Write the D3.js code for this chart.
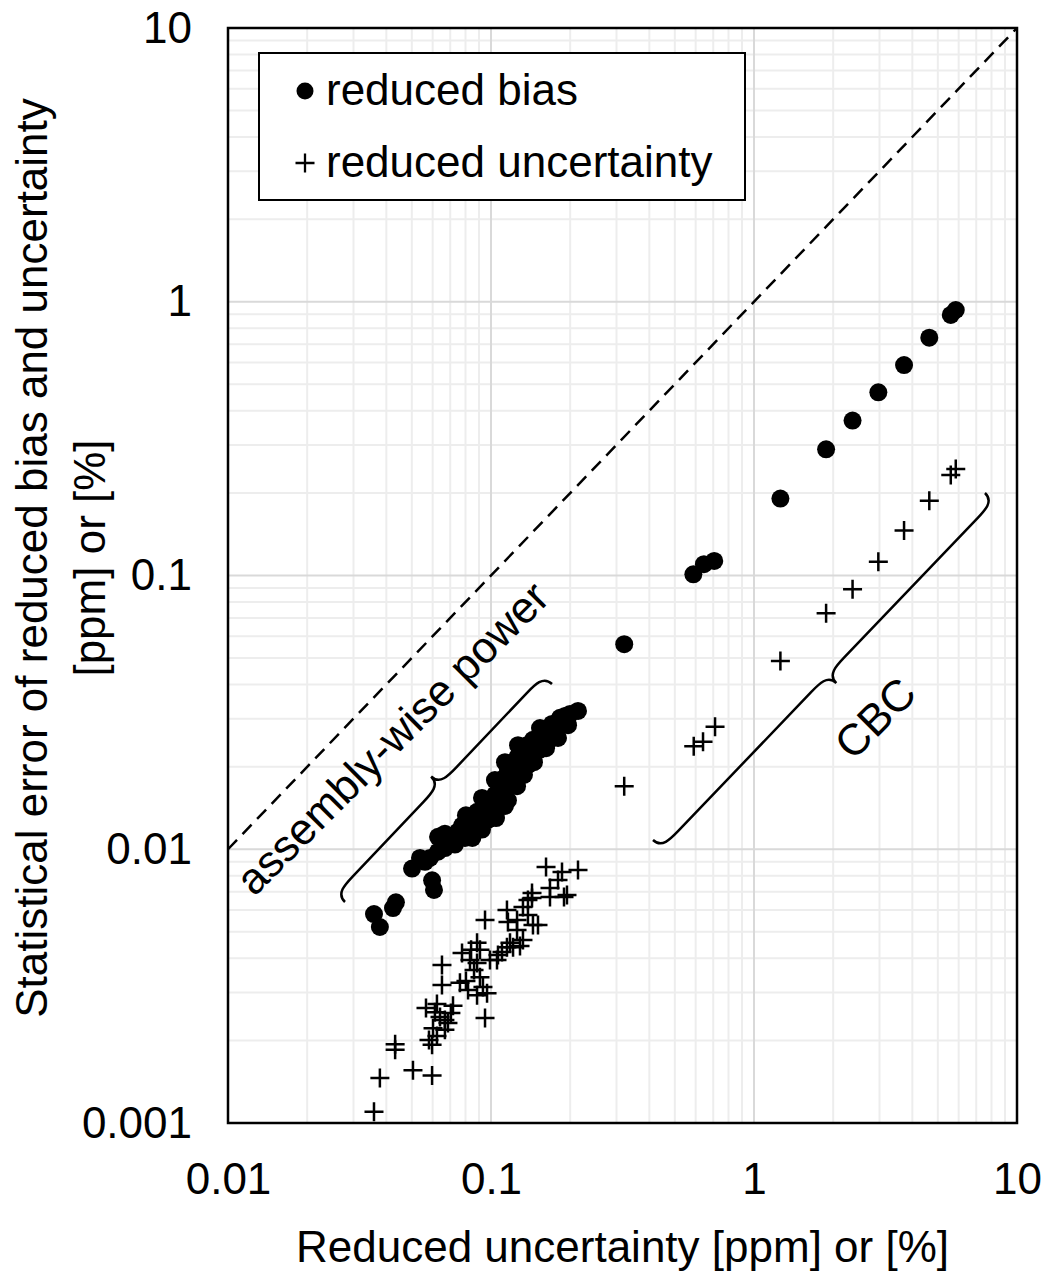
<!DOCTYPE html>
<html>
<head>
<meta charset="utf-8">
<script src="https://cdn.jsdelivr.net/npm/d3@7"></script>
<style>
  body { margin: 0; background: #fff; }
  svg { display: block; font-family: "Liberation Sans", Arial, sans-serif; }
</style>
</head>
<body>
<div id="chart"></div>
<script>
// --- Données ---
// reduced bias : [reduced uncertainty, statistical error]
const biasAssembly = [
  [0.0359, 0.0058], [0.0378, 0.0052], [0.0424, 0.0061], [0.0435, 0.0064], [0.0501, 0.0085],
  [0.0597, 0.0077], [0.0607, 0.0071], [0.0561, 0.0090], [0.0586, 0.0093], [0.0629, 0.0111],
  [0.0629, 0.0098], [0.0668, 0.0101], [0.0698, 0.0108], [0.0729, 0.0104], [0.0749, 0.0116],
  [0.0776, 0.0122], [0.0796, 0.0110], [0.0832, 0.0126], [0.0862, 0.0120], [0.0885, 0.0137],
  [0.0908, 0.0128], [0.0941, 0.0144], [0.0957, 0.0133], [0.0991, 0.0151], [0.1009, 0.0139],
  [0.1035, 0.0158], [0.1063, 0.0148], [0.1082, 0.0167], [0.1101, 0.0157], [0.1120, 0.0182],
  [0.1140, 0.0170], [0.1160, 0.0195], [0.1181, 0.0179], [0.1213, 0.0208], [0.1234, 0.0192],
  [0.1267, 0.0219], [0.1289, 0.0201], [0.1312, 0.0231], [0.1335, 0.0212], [0.1370, 0.0240],
  [0.1406, 0.0221], [0.1444, 0.0251], [0.1483, 0.0234], [0.1536, 0.0259], [0.1605, 0.0266],
  [0.1647, 0.0247], [0.1706, 0.0287], [0.1767, 0.0273], [0.1830, 0.0302], [0.1912, 0.0307],
  [0.1998, 0.0312], [0.2142, 0.0320], [0.1130, 0.0144], [0.0974, 0.0128], [0.0832, 0.0116],
  [0.0711, 0.0110], [0.1382, 0.0203], [0.1536, 0.0231], [0.1035, 0.0139],
  [0.0849, 0.0110], [0.0924, 0.0118], [0.1045, 0.0130], [0.1160, 0.0151], [0.1256, 0.0170],
  [0.1335, 0.0187], [0.1457, 0.0208], [0.1619, 0.0234], [0.1798, 0.0255], [0.1963, 0.0284],
  [0.0668, 0.0114], [0.0803, 0.0133], [0.0924, 0.0154], [0.1035, 0.0179], [0.1130, 0.0208],
  [0.1267, 0.0240], [0.1536, 0.0277], [0.0537, 0.0093]
];
const biasCBC = [
  [0.321, 0.0561], [0.588, 0.101], [0.645, 0.110], [0.706, 0.113], [1.26, 0.191], [1.88, 0.289],
  [2.37, 0.368], [2.97, 0.467], [3.72, 0.587], [4.64, 0.739], [5.60, 0.895], [5.85, 0.933]
];
// reduced uncertainty
const uncAssembly = [
  [0.0359, 0.00110], [0.0378, 0.00146], [0.0432, 0.00194], [0.0432, 0.00185], [0.0505, 0.00156],
  [0.0597, 0.00149], [0.0651, 0.00378], [0.0651, 0.00319], [0.0566, 0.00263], [0.0623, 0.00272],
  [0.0717, 0.00268], [0.0704, 0.00252], [0.0686, 0.00232], [0.0668, 0.00238], [0.0602, 0.00222],
  [0.0581, 0.00201], [0.0623, 0.00208], [0.0597, 0.00193], [0.0640, 0.00244], [0.0776, 0.00418],
  [0.0840, 0.00429], [0.0885, 0.00455], [0.0762, 0.00325], [0.0818, 0.00306], [0.0885, 0.00293],
  [0.0932, 0.00314], [0.0862, 0.00362], [0.0966, 0.00298], [0.0949, 0.00242], [0.0949, 0.00551],
  [0.1101, 0.00421], [0.1150, 0.00439], [0.1213, 0.00439], [0.1054, 0.00394], [0.1150, 0.00600],
  [0.1160, 0.00542], [0.1256, 0.00551], [0.1256, 0.00507], [0.1323, 0.00615], [0.1382, 0.00575],
  [0.1432, 0.00664], [0.1509, 0.00529], [0.1323, 0.00466], [0.1619, 0.00862], [0.1862, 0.00826],
  [0.2142, 0.00840], [0.1798, 0.00772], [0.1676, 0.00669], [0.1895, 0.00669], [0.1676, 0.00722],
  [0.1432, 0.00692], [0.1945, 0.00681], [0.1382, 0.00653], [0.1181, 0.00455], [0.1063, 0.00411],
  [0.0908, 0.00429], [0.0885, 0.00384], [0.0908, 0.00341], [0.1444, 0.00529], [0.1289, 0.00443],
  [0.0803, 0.00330], [0.0668, 0.00219], [0.0612, 0.00254], [0.0832, 0.00394], [0.0991, 0.00394]
];
const uncCBC = [
  [0.321, 0.0170], [0.590, 0.0238], [0.640, 0.0247], [0.711, 0.0280], [1.26, 0.0487], [1.88, 0.0728],
  [2.37, 0.0891], [2.97, 0.1123], [3.72, 0.146], [4.64, 0.1876], [5.60, 0.233], [5.85, 0.245]
];

const xTicks = [0.01, 0.1, 1, 10];
const xTickLabels = ["0.01", "0.1", "1", "10"];
const yTicks = [0.001, 0.01, 0.1, 1, 10];
const yTickLabels = ["0.001", "0.01", "0.1", "1", "10"];
const legendLabels = ["reduced bias", "reduced uncertainty"];

// --- Mise en page ---
const width = 1048, height = 1284;
const plot = { left: 228, right: 1017, top: 28, bottom: 1123 };
const FONT = 44;

const x = d3.scaleLog().domain([0.01, 10]).range([plot.left, plot.right]);
const y = d3.scaleLog().domain([0.001, 10]).range([plot.bottom, plot.top]);

const svg = d3.select("#chart").append("svg")
  .attr("width", width)
  .attr("height", height);

// --- Grille (mineure puis majeure) ---
const minorX = [], minorY = [];
for (let d = 0.01; d < 10; d *= 10) for (let k = 2; k <= 9; k++) minorX.push(+(d * k).toPrecision(3));
for (let d = 0.001; d < 10; d *= 10) for (let k = 2; k <= 9; k++) minorY.push(+(d * k).toPrecision(3));

const grid = svg.append("g");
grid.selectAll(".mx").data(minorX).join("line")
  .attr("x1", d => x(d)).attr("x2", d => x(d))
  .attr("y1", plot.top).attr("y2", plot.bottom)
  .attr("stroke", "#ededed").attr("stroke-width", 2);
grid.selectAll(".my").data(minorY).join("line")
  .attr("y1", d => y(d)).attr("y2", d => y(d))
  .attr("x1", plot.left).attr("x2", plot.right)
  .attr("stroke", "#ededed").attr("stroke-width", 2);
grid.selectAll(".Mx").data(xTicks).join("line")
  .attr("x1", d => x(d)).attr("x2", d => x(d))
  .attr("y1", plot.top).attr("y2", plot.bottom)
  .attr("stroke", "#d9d9d9").attr("stroke-width", 2);
grid.selectAll(".My").data(yTicks).join("line")
  .attr("y1", d => y(d)).attr("y2", d => y(d))
  .attr("x1", plot.left).attr("x2", plot.right)
  .attr("stroke", "#d9d9d9").attr("stroke-width", 2);

// --- Diagonale y = x ---
svg.append("line")
  .attr("x1", x(0.01)).attr("y1", y(0.01))
  .attr("x2", x(10)).attr("y2", y(10))
  .attr("stroke", "#000").attr("stroke-width", 2.5)
  .attr("stroke-dasharray", "13,8");

// --- Accolades ---
// side = -1 : pointe vers le haut-gauche, +1 : vers le bas-droite
function bracePath(L, q, side) {
  const h = L / 2, s = side;
  return `M0,0 C0,${s * q / 2} ${q / 2},${s * q / 2} ${q},${s * q / 2}` +
    ` L${h - q},${s * q / 2} C${h - q / 2},${s * q / 2} ${h},${s * q / 2} ${h},${s * q}` +
    ` C${h},${s * q / 2} ${h + q / 2},${s * q / 2} ${h + q},${s * q / 2}` +
    ` L${L - q},${s * q / 2} C${L - q / 2},${s * q / 2} ${L},${s * q / 2} ${L},0`;
}
function drawBrace(p0, p1, q, side) {
  const dx = p1[0] - p0[0], dy = p1[1] - p0[1];
  const L = Math.hypot(dx, dy);
  const ang = Math.atan2(dy, dx) * 180 / Math.PI;
  svg.append("path")
    .attr("d", bracePath(L, q, side))
    .attr("transform", `translate(${p0[0]},${p0[1]}) rotate(${ang})`)
    .attr("fill", "none").attr("stroke", "#000").attr("stroke-width", 2.5);
}
drawBrace([345, 902], [552, 684], 24, -1);
drawBrace([653, 840], [985, 493], 24, 1);

// --- Annotations ---
svg.append("text")
  .attr("transform", "translate(392,738) rotate(-45)")
  .attr("text-anchor", "middle").attr("dy", "0.35em")
  .attr("font-size", FONT).text("assembly-wise power");
svg.append("text")
  .attr("transform", "translate(875,718) rotate(-45)")
  .attr("text-anchor", "middle").attr("dy", "0.35em")
  .attr("font-size", FONT).text("CBC");

// --- Points ---
const crossPath = "M-9.5,0H9.5M0,-9.5V9.5";
const pts = svg.append("g");
pts.selectAll(".unc").data(uncAssembly.concat(uncCBC)).join("path")
  .attr("d", crossPath)
  .attr("transform", d => `translate(${x(d[0])},${y(d[1])})`)
  .attr("stroke", "#000").attr("stroke-width", 2.5).attr("fill", "none");
pts.selectAll(".bias").data(biasAssembly.concat(biasCBC)).join("circle")
  .attr("cx", d => x(d[0])).attr("cy", d => y(d[1]))
  .attr("r", 9).attr("fill", "#000");

// --- Cadre ---
svg.append("rect")
  .attr("x", plot.left).attr("y", plot.top)
  .attr("width", plot.right - plot.left).attr("height", plot.bottom - plot.top)
  .attr("fill", "none").attr("stroke", "#000").attr("stroke-width", 2.5);

// --- Axes ---
const xAxis = svg.append("g")
  .attr("transform", `translate(0,${plot.bottom})`)
  .call(d3.axisBottom(x).tickValues(xTicks).tickFormat((d, i) => xTickLabels[i]).tickSize(0).tickPadding(40));
xAxis.select(".domain").remove();
xAxis.selectAll("text").attr("font-size", FONT).attr("fill", "#000")
  .attr("font-family", "'Liberation Sans', Arial, sans-serif");

const yAxis = svg.append("g")
  .attr("transform", `translate(${plot.left},0)`)
  .call(d3.axisLeft(y).tickValues(yTicks).tickFormat((d, i) => yTickLabels[i]).tickSize(0).tickPadding(36));
yAxis.select(".domain").remove();
yAxis.selectAll("text").attr("font-size", FONT).attr("fill", "#000")
  .attr("font-family", "'Liberation Sans', Arial, sans-serif");

// --- Titres des axes ---
svg.append("text")
  .attr("x", (plot.left + plot.right) / 2).attr("y", 1262)
  .attr("text-anchor", "middle").attr("font-size", FONT)
  .text("Reduced uncertainty [ppm] or [%]");

const yTitle = svg.append("text")
  .attr("transform", "translate(0,558) rotate(-90)")
  .attr("text-anchor", "middle").attr("font-size", FONT);
yTitle.append("tspan").attr("x", 0).attr("y", 47)
  .text("Statistical error of reduced bias and uncertainty");
yTitle.append("tspan").attr("x", 0).attr("y", 105)
  .text("[ppm] or [%]");

// --- Légende ---
const lg = svg.append("g");
lg.append("rect")
  .attr("x", 259).attr("y", 53).attr("width", 486).attr("height", 147)
  .attr("fill", "#fff").attr("stroke", "#000").attr("stroke-width", 2);
lg.append("circle").attr("cx", 305).attr("cy", 91).attr("r", 8.5).attr("fill", "#000");
lg.append("path").attr("d", crossPath)
  .attr("transform", "translate(305,163)")
  .attr("stroke", "#000").attr("stroke-width", 2.3);
lg.selectAll(".lt").data(legendLabels).join("text")
  .attr("x", 326).attr("y", (d, i) => 105 + i * 72)
  .attr("font-size", FONT).text(d => d);
</script>
</body>
</html>
